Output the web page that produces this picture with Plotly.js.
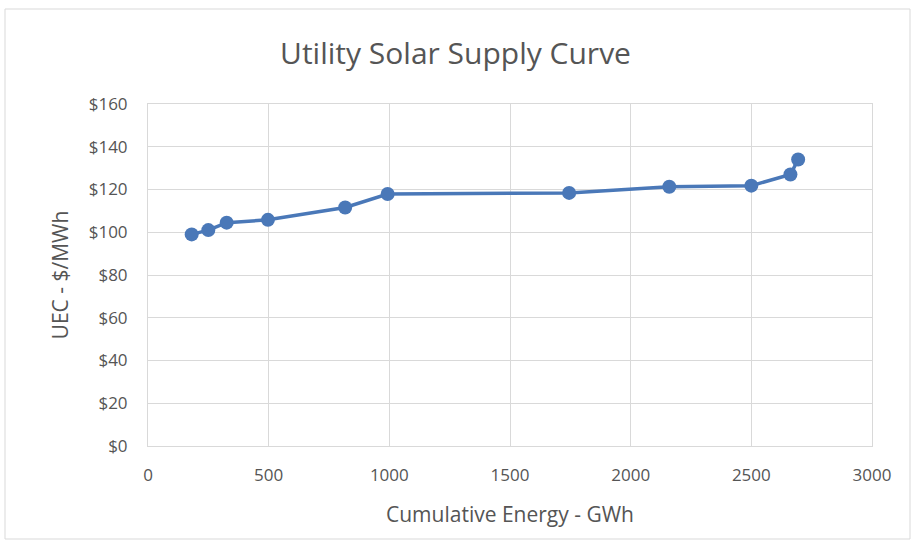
<!DOCTYPE html>
<html><head><meta charset="utf-8">
<script src="https://cdn.plot.ly/plotly-3.0.1.min.js"></script>
<style>html,body{margin:0;padding:0;background:#fff}#chart{width:911px;height:540px}</style>
</head><body><div id="chart"></div>
<script>
const energyGWh = [181, 250, 326, 497, 817, 993, 1745, 2160, 2500, 2662, 2694];
const uecDollars = [99, 101, 104.5, 105.8, 111.6, 117.9, 118.4, 121.3, 121.8, 127.0, 134.0];
const yTickVals = [0, 20, 40, 60, 80, 100, 120, 140, 160];
const yTickText = yTickVals.map(v => '$' + v);
const xTickVals = [0, 500, 1000, 1500, 2000, 2500, 3000];

const W = 911, H = 540;
const m = {l: 148, r: 39, t: 104, b: 94};
const pw = W - m.l - m.r, ph = H - m.t - m.b;
const fx = px => (px - m.l) / pw;
const fy = py => (H - m.b - py) / ph;

const trace = {
  x: energyGWh, y: uecDollars, type: 'scatter', mode: 'lines+markers',
  line: {color: '#4a78b8', width: 3.5},
  marker: {color: '#4a78b8', size: 14}
};
const txt = '#555555';
const layout = {
  width: W, height: H, margin: m,
  paper_bgcolor: '#fff', plot_bgcolor: '#fff',
  font: {family: 'Open Sans, sans-serif', color: txt},
  title: {text: 'Utility Solar Supply Curve', font: {size: 30, color: txt}, x: 0.5, xanchor: 'center', y: 1 - 53/H, yanchor: 'middle'},
  xaxis: {range: [0, 3000], tickvals: xTickVals, showgrid: true, gridcolor: '#d9d9d9', gridwidth: 1,
    zeroline: false, showline: true, linecolor: '#d9d9d9', mirror: true, ticks: '',
    tickfont: {size: 17, color: txt}, ticklabelstandoff: 14,
    title: {text: 'Cumulative Energy - GWh', font: {size: 21, color: txt}, standoff: 21}},
  yaxis: {range: [0, 160], tickvals: yTickVals, ticktext: yTickText, showgrid: true, gridcolor: '#d9d9d9', gridwidth: 1,
    zeroline: false, showline: true, linecolor: '#d9d9d9', mirror: true, ticks: '',
    tickfont: {size: 17, color: txt}, ticklabelstandoff: 16,
    title: {text: 'UEC - $/MWh', font: {size: 21, color: txt}, standoff: 14}},
  shapes: [{type: 'rect', xref: 'paper', yref: 'paper', x0: fx(5), x1: fx(910), y0: fy(539), y1: fy(9),
    line: {color: '#d9d9d9', width: 1}, fillcolor: 'rgba(0,0,0,0)', layer: 'below'}],
  showlegend: false
};
Plotly.newPlot('chart', [trace], layout, {displayModeBar: false, staticPlot: true});
</script></body></html>
